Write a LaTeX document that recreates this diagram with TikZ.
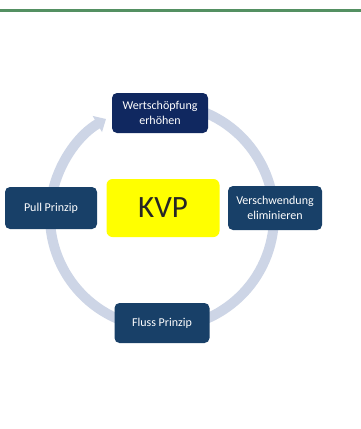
\documentclass[tikz,border=0pt]{standalone}
\usepackage{fontspec}
\setmainfont{Carlito}
\usetikzlibrary{arrows.meta}
\definecolor{ringc}{RGB}{205,213,230}
\definecolor{navytop}{RGB}{16,40,96}
\definecolor{navybox}{RGB}{24,64,104}
\definecolor{kvpy}{RGB}{255,255,0}
\definecolor{topline}{RGB}{84,144,98}
\tikzset{
  stepbox/.style={rounded corners=5pt, fill=navybox, text=white, align=center,
    font=\fontsize{12}{15}\selectfont, inner sep=0pt},
}
\begin{document}
\begin{tikzpicture}[x=1pt,y=1pt]
\useasboundingbox (0,0) rectangle (361,-429);
\fill[white] (0,0) rectangle (361,-429);
% top green rule
\coordinate (lineL) at (0,-10.3);
\coordinate (lineR) at (361,-10.3);
\draw[topline, line width=2.6pt] (lineL) -- (lineR);
% ring
\coordinate (ctr) at (162,-216);
\draw[ringc, line width=10pt, -{Triangle[width=18pt,length=10pt]}]
  ([shift={(75:112)}]ctr) arc[start angle=75, end angle=-240, radius=112];
% nodes
\node[stepbox, fill=navytop, minimum width=96pt, minimum height=40pt] (wert) at (160,-113) {Wertschöpfung\\erhöhen};
\node[stepbox, minimum width=92pt, minimum height=42pt] (pull) at (51,-208) {Pull Prinzip};
\node[stepbox, minimum width=94pt, minimum height=44pt] (versch) at (275,-208) {Verschwendung\\eliminieren};
\node[stepbox, minimum width=95pt, minimum height=40pt] (fluss) at (162,-323) {Fluss Prinzip};
\node[rounded corners=6pt, fill=kvpy, minimum width=113pt, minimum height=58pt, inner sep=0pt,
  text=black!85, font=\fontsize{31}{36}\selectfont] (kvp) at (163,-208) {KVP};
\end{tikzpicture}
\end{document}
